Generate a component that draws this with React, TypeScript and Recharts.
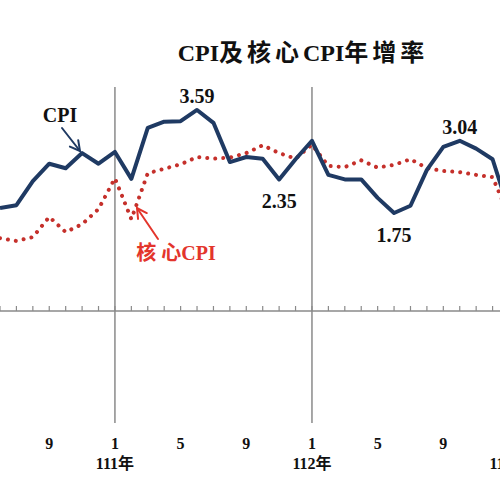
import {
  ComposedChart,
  LabelList,
  Line,
  ReferenceLine,
  Scatter,
  XAxis,
  YAxis,
} from "recharts";

// 民國年 / 月, 110/6 – 113/1
const years = [
  110, 110, 110, 110, 110, 110, 110,
  111, 111, 111, 111, 111, 111, 111, 111, 111, 111, 111, 111,
  112, 112, 112, 112, 112, 112, 112, 112, 112, 112, 112, 112,
  113,
];
const months = [
  6, 7, 8, 9, 10, 11, 12,
  1, 2, 3, 4, 5, 6, 7, 8, 9, 10, 11, 12,
  1, 2, 3, 4, 5, 6, 7, 8, 9, 10, 11, 12,
  1,
];
const cpi = [
  1.84, 1.89, 2.32, 2.63, 2.55, 2.82, 2.63,
  2.84, 2.36, 3.27, 3.38, 3.39, 3.59, 3.36, 2.66, 2.75, 2.72, 2.35, 2.71,
  3.04, 2.43, 2.35, 2.35, 2.02, 1.75, 1.88, 2.52, 2.93, 3.04, 2.9, 2.71,
  1.79,
];
const coreCpi = [
  1.3, 1.25, 1.32, 1.68, 1.41, 1.55, 1.82,
  2.37, 1.64, 2.46, 2.54, 2.62, 2.75, 2.72, 2.74, 2.82, 2.96, 2.82, 2.72,
  2.97, 2.59, 2.57, 2.69, 2.56, 2.61, 2.71, 2.55, 2.5, 2.48, 2.43, 2.39,
  1.7,
];
const labelsAbove = ["111/6", "112/10"];
const labelsBelow = ["111/11", "112/6"];
const tickMonths = [1, 5, 9];

const data = months.map((month, i) => {
  const key = `${years[i]}/${month}`;
  return {
    idx: i,
    year: years[i],
    month,
    cpi: cpi[i],
    core: coreCpi[i],
    base: 0,
    above: labelsAbove.includes(key) ? cpi[i].toFixed(2) : null,
    below: labelsBelow.includes(key) ? cpi[i].toFixed(2) : null,
  };
});
const yearStarts = data.filter((d) => d.month === 1).map((d) => d.idx);

const FONT = "'Liberation Serif', 'Noto Sans CJK TC', serif";
const NAVY = "#1f3a63";
const RED = "#c5302b";
const LABEL_RED = "#e3352c";
const GRAY = "#8a8a8a";

function MonthTick(props: any) {
  const { x, y, payload } = props;
  const row = data[payload.value];
  if (!row || !tickMonths.includes(row.month)) return null;
  return (
    <g fontFamily={FONT} fontWeight="bold" fontSize={16} fill="#111">
      <text x={x} y={y + 26} textAnchor="middle">
        {row.month}
      </text>
      {row.month === 1 && (
        <text x={x} y={y + 46} textAnchor="middle">
          {`${row.year}年`}
        </text>
      )}
    </g>
  );
}

const renderAbove = (props: any) => {
  const { x, y, value } = props;
  if (value == null) return null;
  return (
    <text x={x} y={y - 7} textAnchor="middle" fontFamily={FONT} fontWeight="bold" fontSize={20} fill="#111">
      {value}
    </text>
  );
};

const renderBelow = (props: any) => {
  const { x, y, value } = props;
  if (value == null) return null;
  return (
    <text x={x} y={y + 29} textAnchor="middle" fontFamily={FONT} fontWeight="bold" fontSize={20} fill="#111">
      {value}
    </text>
  );
};

const tickMark = (props: any) => {
  const { cx, cy } = props;
  return <line x1={cx} x2={cx} y1={cy} y2={cy - 5} stroke={GRAY} strokeWidth={1.2} />;
};

function Arrow({ x1, y1, x2, y2, color }: { x1: number; y1: number; x2: number; y2: number; color: string }) {
  const a = Math.atan2(y2 - y1, x2 - x1);
  const len = 11;
  const p1 = [x2 - len * Math.cos(a - 0.5), y2 - len * Math.sin(a - 0.5)];
  const p2 = [x2 - len * Math.cos(a + 0.5), y2 - len * Math.sin(a + 0.5)];
  return (
    <g stroke={color} strokeWidth={2} fill="none" strokeLinecap="round">
      <line x1={x1} y1={y1} x2={x2} y2={y2} />
      <polyline points={`${p1[0]},${p1[1]} ${x2},${y2} ${p2[0]},${p2[1]}`} />
    </g>
  );
}

export default function App() {
  return (
    <div
      style={{
        position: "absolute",
        left: 0,
        top: 0,
        width: 500,
        height: 500,
        overflow: "hidden",
        background: "#fff",
      }}
    >
      <ComposedChart
        width={520}
        height={500}
        data={data}
        margin={{ top: 87, right: 11, bottom: 17, left: 0 }}
      >
        <YAxis hide domain={[-2, 4]} />
        <XAxis
          type="number"
          dataKey="idx"
          domain={[0, data.length - 1]}
          ticks={data.map((d) => d.idx)}
          interval={0}
          tick={<MonthTick />}
          tickLine={false}
          axisLine={false}
          tickSize={0}
          tickMargin={0}
          height={60}
        />
        {yearStarts.map((i) => (
          <ReferenceLine key={i} x={i} stroke={GRAY} strokeWidth={1.5} />
        ))}
        <ReferenceLine y={0} stroke={GRAY} strokeWidth={1.5} />
        <Scatter dataKey="base" shape={tickMark} isAnimationActive={false} />
        <Line
          type="linear"
          dataKey="core"
          stroke={RED}
          strokeWidth={4}
          strokeDasharray="0.01 8"
          strokeLinecap="round"
          dot={false}
          isAnimationActive={false}
        />
        <Line
          type="linear"
          dataKey="cpi"
          stroke={NAVY}
          strokeWidth={4}
          strokeLinejoin="round"
          dot={false}
          isAnimationActive={false}
        >
          <LabelList dataKey="above" content={renderAbove} />
          <LabelList dataKey="below" content={renderBelow} />
        </Line>
      </ComposedChart>
      <svg
        width={500}
        height={500}
        style={{ position: "absolute", left: 0, top: 0, pointerEvents: "none" }}
      >
        <text x={303} y={61} textAnchor="middle" fontFamily={FONT} fontWeight="bold" fontSize={24} fill="#111">
          <tspan>CPI</tspan>
          <tspan letterSpacing={4}>及核心</tspan>
          <tspan>CPI</tspan>
          <tspan letterSpacing={4}>年增率</tspan>
        </text>
        <text x={60} y={122} textAnchor="middle" fontFamily={FONT} fontWeight="bold" fontSize={20} fill="#111">
          CPI
        </text>
        <Arrow x1={62} y1={128} x2={80} y2={151} color={NAVY} />
        <text x={176} y={260} textAnchor="middle" fontFamily={FONT} fontWeight="bold" fontSize={20} fill={LABEL_RED}>
          <tspan letterSpacing={5}>核</tspan>
          <tspan>心CPI</tspan>
        </text>
        <Arrow x1={158} y1={239} x2={137} y2={208} color={LABEL_RED} />
      </svg>
    </div>
  );
}
